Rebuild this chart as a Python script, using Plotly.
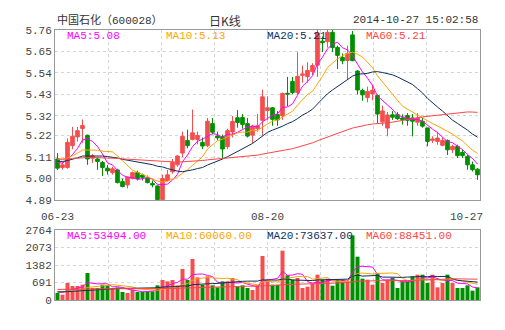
import plotly.graph_objects as go
import pandas as pd

# ---------------- data ----------------
dates = ["06-23","06-24","06-25","06-26","06-27","06-30",
         "07-01","07-02","07-03","07-04","07-07","07-08","07-09","07-10","07-11",
         "07-14","07-15","07-16","07-17","07-18","07-21","07-22","07-23","07-24",
         "07-25","07-28","07-29","07-30","07-31",
         "08-01","08-04","08-05","08-06","08-07","08-08","08-11","08-12","08-13",
         "08-14","08-15","08-18","08-19","08-20","08-21","08-22","08-25","08-26",
         "08-27","08-28","08-29",
         "09-01","09-02","09-03","09-04","09-05","09-09","09-10","09-11","09-12",
         "09-15","09-16","09-17","09-18","09-19","09-22","09-23","09-24","09-25",
         "09-26","09-29","09-30",
         "10-08","10-09","10-10","10-13","10-14","10-15","10-16","10-17","10-20",
         "10-21","10-22","10-23","10-24","10-27"]

opens = [5.100,5.056,5.056,5.168,5.213,5.256,5.221,5.104,5.100,5.082,
         5.053,5.030,5.044,4.984,4.967,5.000,5.030,5.018,5.002,4.975,
         4.962,4.892,4.990,5.034,5.070,5.130,5.195,5.200,5.200,5.185,
         5.168,5.281,5.218,5.214,5.163,5.238,5.311,5.312,5.281,5.222,
         5.255,5.298,5.348,5.362,5.327,5.320,5.436,5.497,5.440,5.528,
         5.521,5.548,5.580,5.703,5.700,5.748,5.671,5.620,5.604,5.735,
         5.550,5.450,5.414,5.433,5.425,5.290,5.258,5.326,5.327,5.310,
         5.322,5.310,5.288,5.293,5.259,5.195,5.190,5.170,5.195,5.147,
         5.164,5.134,5.113,5.070,5.048]
highs = [5.130,5.085,5.205,5.264,5.264,5.302,5.225,5.125,5.105,5.090,
         5.070,5.060,5.050,5.000,5.010,5.035,5.040,5.025,5.015,4.990,
         4.965,5.020,5.044,5.100,5.120,5.240,5.250,5.353,5.240,5.210,
         5.310,5.310,5.240,5.225,5.255,5.320,5.350,5.330,5.310,5.275,
         5.330,5.455,5.420,5.365,5.345,5.440,5.520,5.520,5.646,5.578,
         5.595,5.590,5.760,5.727,5.760,5.760,5.680,5.640,5.680,5.755,
         5.555,5.460,5.470,5.480,5.430,5.372,5.340,5.345,5.340,5.328,
         5.335,5.330,5.335,5.310,5.260,5.216,5.240,5.210,5.200,5.173,
         5.173,5.147,5.122,5.087,5.053]
lows = [5.044,5.045,5.050,5.150,5.190,5.182,5.070,5.080,5.044,5.013,
        5.020,5.020,4.975,4.955,4.950,4.995,4.990,4.990,4.975,4.955,
        4.890,4.890,4.984,5.025,5.060,5.110,5.155,5.195,5.175,5.150,
        5.160,5.225,5.195,5.100,5.150,5.210,5.260,5.255,5.210,5.180,
        5.240,5.220,5.300,5.270,5.270,5.300,5.370,5.430,5.430,5.490,
        5.490,5.530,5.520,5.647,5.670,5.647,5.560,5.585,5.509,5.600,
        5.430,5.398,5.390,5.400,5.285,5.270,5.216,5.300,5.300,5.276,
        5.270,5.216,5.270,5.260,5.165,5.182,5.173,5.165,5.120,5.130,
        5.105,5.105,5.045,5.036,4.993]
closes = [5.053,5.070,5.185,5.216,5.245,5.271,5.100,5.116,5.087,5.056,
          5.039,5.050,4.979,4.959,5.007,5.030,5.000,5.006,4.979,4.967,
          4.892,5.000,5.019,5.082,5.115,5.216,5.168,5.234,5.220,5.166,
          5.293,5.237,5.208,5.151,5.245,5.292,5.287,5.277,5.217,5.268,
          5.270,5.418,5.362,5.303,5.300,5.435,5.432,5.440,5.523,5.535,
          5.553,5.578,5.745,5.695,5.748,5.670,5.630,5.602,5.640,5.603,
          5.453,5.428,5.445,5.452,5.330,5.346,5.325,5.314,5.306,5.301,
          5.298,5.293,5.310,5.268,5.190,5.202,5.207,5.195,5.147,5.164,
          5.117,5.117,5.070,5.045,5.019]
volumes = [276,210,671,553,553,605,1066,474,474,605,
           579,474,500,316,276,408,316,316,342,342,
           579,790,737,790,579,1224,790,1619,895,605,
           934,579,500,737,737,869,526,579,474,395,
           579,1737,737,605,605,1948,974,803,869,474,
           526,658,1000,803,842,566,803,803,737,2553,
           1711,842,803,605,1066,671,803,869,474,737,
           737,934,1000,1000,671,1000,500,671,1000,671,
           474,474,579,368,500]

price_ticks = [4.89, 5.00, 5.11, 5.22, 5.32, 5.43, 5.54, 5.65, 5.76]
price_tick_labels = ["4.89","5.00","5.11","5.22","5.32","5.43","5.54","5.65","5.76"]
vol_ticks = [0, 691, 1382, 2073, 2764]
vol_tick_labels = ["0", "691", "1382", "2073", "2764"]
x_labels = ["06-23", "08-20", "10-27"]

ma_periods = [5, 10, 20, 60]
# moving-average levels read at the first visible day (history before 06-23 is off-chart)
price_ma_start = [5.09, 5.105, 5.09, 5.10]
vol_ma_start = [330, 340, 320, 420]
price_ma_labels = ["MA5:5.08", "MA10:5.13", "MA20:5.21", "MA60:5.21"]
vol_ma_labels = ["MA5:53494.00", "MA10:60060.00", "MA20:73637.00", "MA60:88451.00"]

title_left = "中国石化（600028）"
title_mid = "日K线"
title_right = "2014-10-27 15:02:58"

# ---------------- styling ----------------
RED = "#f54e4e"
GREEN = "#008f00"
MA_COLORS = ["#ff00ff", "#ffa500", "#0b2f5c", "#ff4545"]
GRID = "#d4d4d4"
FRAME = "#999999"
TXT = "#444444"
MONO = "Liberation Mono, DejaVu Sans Mono, monospace"
CJK = "Liberation Mono, Noto Sans CJK SC, sans-serif"

idx = list(range(len(dates)))
n = len(dates)


def moving_average(values, period, start_level):
    s = pd.Series([start_level] * (period - 1) + list(values), dtype=float)
    return s.rolling(period).mean().iloc[period - 1:].tolist()


fig = go.Figure()
fig.add_trace(go.Candlestick(
    x=idx, open=opens, high=highs, low=lows, close=closes,
    increasing=dict(line=dict(color=RED, width=1), fillcolor=RED),
    decreasing=dict(line=dict(color=GREEN, width=1), fillcolor=GREEN),
    whiskerwidth=0, xaxis="x", yaxis="y", hoverinfo="skip", showlegend=False))

for p, c, s0 in zip(ma_periods, MA_COLORS, price_ma_start):
    fig.add_trace(go.Scatter(x=idx, y=moving_average(closes, p, s0),
                             mode="lines", line=dict(color=c, width=1),
                             xaxis="x", yaxis="y", hoverinfo="skip", showlegend=False))

vol_colors = [RED if c >= o else GREEN for o, c in zip(opens, closes)]
fig.add_trace(go.Bar(x=idx, y=volumes, marker=dict(color=vol_colors, line=dict(width=0)),
                     width=0.8, xaxis="x2", yaxis="y2", hoverinfo="skip", showlegend=False))
for p, c, s0 in zip(ma_periods, MA_COLORS, vol_ma_start):
    fig.add_trace(go.Scatter(x=idx, y=moving_average(volumes, p, s0),
                             mode="lines", line=dict(color=c, width=1),
                             xaxis="x2", yaxis="y2", hoverinfo="skip", showlegend=False))

W, H = 505, 330
ML, MR, MT, MB = 55, 25, 30, 30
PH = H - MT - MB


def py(real_y):
    return (H - MB - real_y) / PH


main_dom = [py(200), 1.0]
vol_dom = [0.0, py(230)]
grid_x = [-0.5 + n * k / 8 for k in range(1, 8)]

axis_common = dict(showgrid=True, gridcolor=GRID, griddash="3px,3px", gridwidth=1,
                   showline=True, mirror=True, linecolor=FRAME, linewidth=1,
                   zeroline=False, ticks="", fixedrange=True)

fig.update_layout(
    width=W, height=H, margin=dict(l=ML, r=MR, t=MT, b=MB),
    paper_bgcolor="white", plot_bgcolor="white", showlegend=False,
    hovermode=False, boxgap=0.28, boxgroupgap=0,
    xaxis=dict(domain=[0, 1], anchor="y", range=[-0.5, n - 0.5], tickvals=grid_x,
               showticklabels=False, rangeslider=dict(visible=False), **axis_common),
    yaxis=dict(domain=main_dom, anchor="x", range=[price_ticks[0], price_ticks[-1]],
               tickvals=price_ticks, ticktext=price_tick_labels,
               tickfont=dict(family=MONO, size=11, color=TXT), **axis_common),
    xaxis2=dict(domain=[0, 1], anchor="y2", range=[-0.5, n - 0.5], tickvals=grid_x,
                showticklabels=False, **axis_common),
    yaxis2=dict(domain=vol_dom, anchor="x2", range=[0, vol_ticks[-1]],
                tickvals=vol_ticks, ticktext=vol_tick_labels,
                tickfont=dict(family=MONO, size=11, color=TXT), **axis_common),
)

ann = []
# header
ann.append(dict(x=0, y=py(20), xref="paper", yref="paper", text=title_left,
                xanchor="left", yanchor="middle", showarrow=False,
                font=dict(family=CJK, size=11, color="#333333")))
ann.append(dict(x=(225 - ML) / (W - ML - MR), y=py(20), xref="paper", yref="paper",
                text=title_mid, xanchor="center", yanchor="middle", showarrow=False,
                font=dict(family="Noto Sans CJK SC", size=12, color="#333333")))
ann.append(dict(x=1, y=py(20), xref="paper", yref="paper", text=title_right,
                xanchor="right", yanchor="middle", showarrow=False,
                font=dict(family=MONO, size=11, color="#333333")))
# legends
leg_x = [65, 164, 265, 364]
for lx, t, c in zip(leg_x, price_ma_labels, MA_COLORS):
    ann.append(dict(x=(lx - ML) / (W - ML - MR), y=py(36.5), xref="paper", yref="paper",
                    text=t, xanchor="left", yanchor="middle", showarrow=False,
                    font=dict(family=MONO, size=11, color=c)))
for lx, t, c in zip(leg_x, vol_ma_labels, MA_COLORS):
    ann.append(dict(x=(lx - ML) / (W - ML - MR), y=py(236), xref="paper", yref="paper",
                    text=t, xanchor="left", yanchor="middle", showarrow=False,
                    font=dict(family=MONO, size=11, color=c)))
# date labels
for k, lab in enumerate(x_labels):
    xi = dates.index(lab)
    last = k == len(x_labels) - 1
    ann.append(dict(x=xi, y=py(217), xref="x", yref="paper", text=lab,
                    xanchor="right" if last else "center", xshift=7 if last else 0,
                    yanchor="middle", showarrow=False,
                    font=dict(family=MONO, size=11, color=TXT)))
fig.update_layout(annotations=ann)

fig.write_html("out.html")
